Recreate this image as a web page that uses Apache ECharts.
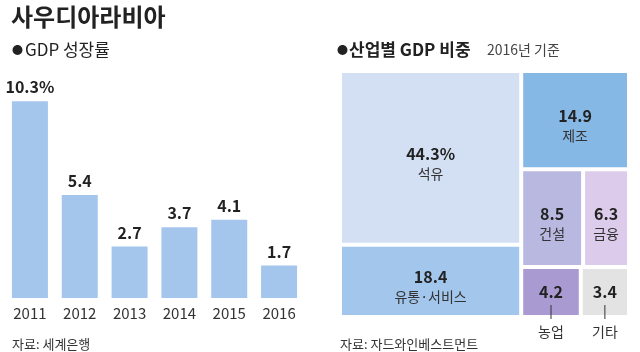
<!DOCTYPE html>
<html>
<head>
<meta charset="utf-8">
<script src="https://cdn.jsdelivr.net/npm/echarts@6/dist/echarts.min.js"></script>
<style>
  html, body { margin: 0; padding: 0; background: #fff; }
  #chart { width: 640px; height: 352px; }
</style>
</head>
<body>
<div id="chart"></div>
<script>
// GDP 성장률 (세계은행)
const years = ['2011', '2012', '2013', '2014', '2015', '2016'];
const growth = [10.3, 5.4, 2.7, 3.7, 4.1, 1.7];

// 산업별 GDP 비중, 2016년 기준 (자드와인베스트먼트)
const sectors = ['석유', '유통·서비스', '제조', '건설', '금융', '농업', '기타'];
const shares = [44.3, 18.4, 14.9, 8.5, 6.3, 4.2, 3.4];

// 칸 배치: 열 -> 행 -> 항목(번호)
const tileColumns = [[[0], [1]], [[2], [3, 4], [5, 6]]];
const tileColors = ['#d3dff2', '#a3c6ec', '#86b8e6', '#b9b8e0', '#dccbea', '#a99bd2', '#e3e3e3'];

const FONT = '"Noto Sans CJK KR", "Noto Sans", sans-serif';

const sum = arr => arr.reduce((a, b) => a + b, 0);

// 값에 비례하는 칸 나누기 (0~100 축 단위)
function layoutTiles() {
  const rects = [];
  const total = sum(shares);
  let x = 0;
  tileColumns.forEach(col => {
    const colSum = sum(col.map(row => sum(row.map(i => shares[i]))));
    const w = colSum / total * 100;
    let y = 0;
    col.forEach(row => {
      const rowSum = sum(row.map(i => shares[i]));
      const h = rowSum / colSum * 100;
      let rx = x;
      row.forEach(i => {
        const rw = shares[i] / rowSum * w;
        rects[i] = [rx, y, rx + rw, y + h, i];
        rx += rw;
      });
      y += h;
    });
    x += w;
  });
  return rects;
}

const chart = echarts.init(document.getElementById('chart'));

const option = {
  animation: false,
  textStyle: { fontFamily: FONT },
  title: [
    {
      text: '사우디아라비아',
      left: 6,
      top: 0,
      textStyle: { fontSize: 24, fontWeight: 'bold', color: '#222', fontFamily: FONT }
    },
    {
      text: '{d|●}{t|GDP 성장률}',
      left: 7,
      top: 36,
      textStyle: {
        rich: {
          d: { fontSize: 11, color: '#222', padding: [0, 2, 0, 0] },
          t: { fontSize: 17, fontWeight: 'normal', color: '#222', fontFamily: FONT }
        }
      }
    },
    {
      text: '{d|●}{t|산업별 GDP 비중}    {s|2016년 기준}',
      left: 332,
      top: 36,
      textStyle: {
        rich: {
          d: { fontSize: 11, color: '#222', padding: [0, 1, 0, 0] },
          t: { fontSize: 17, fontWeight: 'bold', color: '#222', fontFamily: FONT },
          s: { fontSize: 14, fontWeight: 'normal', color: '#444', fontFamily: FONT }
        }
      }
    },
    {
      text: '자료: 세계은행',
      left: 7,
      top: 333,
      textStyle: { fontSize: 13, fontWeight: 'normal', color: '#333', fontFamily: FONT }
    },
    {
      text: '자료: 자드와인베스트먼트',
      left: 335,
      top: 333,
      textStyle: { fontSize: 13, fontWeight: 'normal', color: '#333', fontFamily: FONT }
    }
  ],
  grid: [
    { left: 5, right: 336, top: 88, bottom: 54 },
    { left: 340, right: 11, top: 71, bottom: 35 }
  ],
  xAxis: [
    {
      type: 'category',
      gridIndex: 0,
      data: years,
      axisLine: { show: false },
      axisTick: { show: false },
      axisLabel: { fontSize: 15, color: '#333', margin: 8, fontFamily: FONT }
    },
    { type: 'value', gridIndex: 1, min: 0, max: 100, show: false }
  ],
  yAxis: [
    { type: 'value', gridIndex: 0, min: 0, max: 11, show: false },
    { type: 'value', gridIndex: 1, min: 0, max: 100, inverse: true, show: false }
  ],
  series: [
    {
      type: 'bar',
      xAxisIndex: 0,
      yAxisIndex: 0,
      data: growth,
      barWidth: 36,
      itemStyle: { color: '#a5c6ec' },
      label: {
        show: true,
        position: 'top',
        distance: 6,
        fontSize: 16,
        fontWeight: 'bold',
        color: '#222',
        fontFamily: FONT,
        formatter: p => (p.dataIndex === 0 ? p.value + '%' : p.value)
      }
    },
    {
      type: 'custom',
      xAxisIndex: 1,
      yAxisIndex: 1,
      data: layoutTiles(),
      renderItem: (params, api) => {
        const i = api.value(4);
        const p0 = api.coord([api.value(0), api.value(1)]);
        const p1 = api.coord([api.value(2), api.value(3)]);
        const gap = 2;
        const x = p0[0] + gap;
        const y = p0[1] + gap;
        const w = p1[0] - p0[0] - gap * 2;
        const h = p1[1] - p0[1] - gap * 2;
        const cx = x + w / 2;
        const cy = y + h / 2;
        const valueText = i === 0 ? shares[i] + '%' : String(shares[i]);
        const children = [
          { type: 'rect', shape: { x, y, width: w, height: h }, style: { fill: tileColors[i] } }
        ];
        if (h > 55) {
          children.push(
            { type: 'text', style: { text: valueText, x: cx, y: cy - 4, align: 'center', verticalAlign: 'middle', fontSize: 16, fontWeight: 'bold', fontFamily: FONT, fill: '#222' } },
            { type: 'text', style: { text: sectors[i], x: cx, y: cy + 16, align: 'center', verticalAlign: 'middle', fontSize: 14, fontFamily: FONT, fill: '#333' } }
          );
        } else {
          children.push(
            { type: 'text', style: { text: valueText, x: cx, y: cy, align: 'center', verticalAlign: 'middle', fontSize: 16, fontWeight: 'bold', fontFamily: FONT, fill: '#222' } },
            { type: 'line', shape: { x1: cx, y1: y + h - 10, x2: cx, y2: y + h + 4 }, style: { stroke: '#333', lineWidth: 1 } },
            { type: 'text', style: { text: sectors[i], x: cx, y: y + h + 17, align: 'center', verticalAlign: 'middle', fontSize: 14, fontFamily: FONT, fill: '#333' } }
          );
        }
        return { type: 'group', children };
      }
    }
  ]
};

chart.setOption(option);
</script>
</body>
</html>
